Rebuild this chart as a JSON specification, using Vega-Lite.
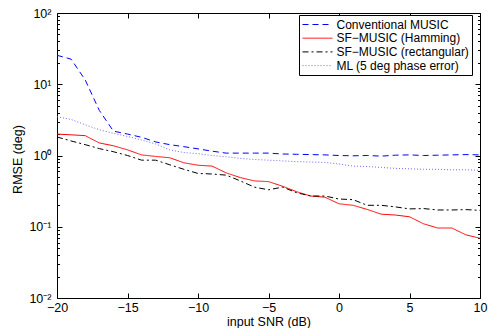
{
  "$schema": "https://vega.github.io/schema/vega-lite/v6.json",
  "width": 423,
  "height": 285,
  "autosize": {"type": "none"},
  "padding": {"left": 57, "top": 13, "right": 11, "bottom": 30},
  "background": "white",
  "config": {
    "view": {"stroke": "black", "strokeWidth": 1},
    "axis": {
      "grid": false, "domain": false, "tickColor": "black", "tickWidth": 1,
      "labelColor": "black", "titleColor": "black",
      "labelFont": "Liberation Sans", "titleFont": "Liberation Sans",
      "labelFontSize": 12.5, "titleFontSize": 12.5, "titleFontWeight": "normal"
    }
  },
  "data": {
    "values": [
      {"snr": -20, "Conventional MUSIC": 25.5, "SF−MUSIC (Hamming)": 2.0, "SF−MUSIC (rectangular)": 1.82, "ML (5 deg phase error)": 3.5},
      {"snr": -19, "Conventional MUSIC": 22.5, "SF−MUSIC (Hamming)": 1.95, "SF−MUSIC (rectangular)": 1.6, "ML (5 deg phase error)": 3.2},
      {"snr": -18, "Conventional MUSIC": 11.5, "SF−MUSIC (Hamming)": 1.9, "SF−MUSIC (rectangular)": 1.42, "ML (5 deg phase error)": 2.7},
      {"snr": -17, "Conventional MUSIC": 4.3, "SF−MUSIC (Hamming)": 1.5, "SF−MUSIC (rectangular)": 1.25, "ML (5 deg phase error)": 2.3},
      {"snr": -16, "Conventional MUSIC": 2.2, "SF−MUSIC (Hamming)": 1.37, "SF−MUSIC (rectangular)": 1.13, "ML (5 deg phase error)": 2.05},
      {"snr": -15, "Conventional MUSIC": 2.0, "SF−MUSIC (Hamming)": 1.2, "SF−MUSIC (rectangular)": 1.0, "ML (5 deg phase error)": 1.85},
      {"snr": -14, "Conventional MUSIC": 1.8, "SF−MUSIC (Hamming)": 1.02, "SF−MUSIC (rectangular)": 0.86, "ML (5 deg phase error)": 1.65},
      {"snr": -13, "Conventional MUSIC": 1.55, "SF−MUSIC (Hamming)": 0.97, "SF−MUSIC (rectangular)": 0.86, "ML (5 deg phase error)": 1.45},
      {"snr": -12, "Conventional MUSIC": 1.42, "SF−MUSIC (Hamming)": 0.93, "SF−MUSIC (rectangular)": 0.74, "ML (5 deg phase error)": 1.2},
      {"snr": -11, "Conventional MUSIC": 1.33, "SF−MUSIC (Hamming)": 0.79, "SF−MUSIC (rectangular)": 0.64, "ML (5 deg phase error)": 1.1},
      {"snr": -10, "Conventional MUSIC": 1.24, "SF−MUSIC (Hamming)": 0.73, "SF−MUSIC (rectangular)": 0.56, "ML (5 deg phase error)": 1.06},
      {"snr": -9, "Conventional MUSIC": 1.15, "SF−MUSIC (Hamming)": 0.71, "SF−MUSIC (rectangular)": 0.55, "ML (5 deg phase error)": 1.0},
      {"snr": -8, "Conventional MUSIC": 1.08, "SF−MUSIC (Hamming)": 0.57, "SF−MUSIC (rectangular)": 0.53, "ML (5 deg phase error)": 0.96},
      {"snr": -7, "Conventional MUSIC": 1.08, "SF−MUSIC (Hamming)": 0.49, "SF−MUSIC (rectangular)": 0.44, "ML (5 deg phase error)": 0.91},
      {"snr": -6, "Conventional MUSIC": 1.08, "SF−MUSIC (Hamming)": 0.44, "SF−MUSIC (rectangular)": 0.36, "ML (5 deg phase error)": 0.88},
      {"snr": -5, "Conventional MUSIC": 1.08, "SF−MUSIC (Hamming)": 0.43, "SF−MUSIC (rectangular)": 0.33, "ML (5 deg phase error)": 0.86},
      {"snr": -4, "Conventional MUSIC": 1.05, "SF−MUSIC (Hamming)": 0.37, "SF−MUSIC (rectangular)": 0.36, "ML (5 deg phase error)": 0.84},
      {"snr": -3, "Conventional MUSIC": 1.04, "SF−MUSIC (Hamming)": 0.31, "SF−MUSIC (rectangular)": 0.3, "ML (5 deg phase error)": 0.82},
      {"snr": -2, "Conventional MUSIC": 1.03, "SF−MUSIC (Hamming)": 0.27, "SF−MUSIC (rectangular)": 0.27, "ML (5 deg phase error)": 0.81},
      {"snr": -1, "Conventional MUSIC": 1.02, "SF−MUSIC (Hamming)": 0.26, "SF−MUSIC (rectangular)": 0.27, "ML (5 deg phase error)": 0.8},
      {"snr": 0, "Conventional MUSIC": 1.0, "SF−MUSIC (Hamming)": 0.21, "SF−MUSIC (rectangular)": 0.245, "ML (5 deg phase error)": 0.76},
      {"snr": 1, "Conventional MUSIC": 0.99, "SF−MUSIC (Hamming)": 0.2, "SF−MUSIC (rectangular)": 0.24, "ML (5 deg phase error)": 0.71},
      {"snr": 2, "Conventional MUSIC": 1.0, "SF−MUSIC (Hamming)": 0.175, "SF−MUSIC (rectangular)": 0.2, "ML (5 deg phase error)": 0.7},
      {"snr": 3, "Conventional MUSIC": 0.98, "SF−MUSIC (Hamming)": 0.15, "SF−MUSIC (rectangular)": 0.2, "ML (5 deg phase error)": 0.68},
      {"snr": 4, "Conventional MUSIC": 1.01, "SF−MUSIC (Hamming)": 0.146, "SF−MUSIC (rectangular)": 0.19, "ML (5 deg phase error)": 0.66},
      {"snr": 5, "Conventional MUSIC": 1.02, "SF−MUSIC (Hamming)": 0.138, "SF−MUSIC (rectangular)": 0.178, "ML (5 deg phase error)": 0.65},
      {"snr": 6, "Conventional MUSIC": 1.0, "SF−MUSIC (Hamming)": 0.11, "SF−MUSIC (rectangular)": 0.18, "ML (5 deg phase error)": 0.64},
      {"snr": 7, "Conventional MUSIC": 1.01, "SF−MUSIC (Hamming)": 0.096, "SF−MUSIC (rectangular)": 0.172, "ML (5 deg phase error)": 0.64},
      {"snr": 8, "Conventional MUSIC": 1.02, "SF−MUSIC (Hamming)": 0.096, "SF−MUSIC (rectangular)": 0.172, "ML (5 deg phase error)": 0.63},
      {"snr": 9, "Conventional MUSIC": 1.03, "SF−MUSIC (Hamming)": 0.077, "SF−MUSIC (rectangular)": 0.174, "ML (5 deg phase error)": 0.63},
      {"snr": 10, "Conventional MUSIC": 1.02, "SF−MUSIC (Hamming)": 0.069, "SF−MUSIC (rectangular)": 0.17, "ML (5 deg phase error)": 0.62}
    ]
  },
  "transform": [
    {"fold": ["Conventional MUSIC", "SF−MUSIC (Hamming)", "SF−MUSIC (rectangular)", "ML (5 deg phase error)"], "as": ["method", "rmse"]}
  ],
  "layer": [
    {
      "mark": {"type": "line", "strokeWidth": 1, "clip": true},
      "encoding": {
        "x": {
          "field": "snr", "type": "quantitative",
          "scale": {"domain": [-20, 10], "nice": false, "zero": false},
          "axis": {"orient": "bottom", "values": [-20, -15, -10, -5, 0, 5, 10], "tickSize": -5, "labelPadding": 8, "labelFlush": false,
                   "title": "input SNR (dB)", "titleY": 23.5, "titleBaseline": "middle"}
        },
        "y": {
          "field": "rmse", "type": "quantitative",
          "scale": {"type": "log", "domain": [0.01, 100], "nice": false},
          "axis": {"orient": "left", "values": [0.01, 0.1, 1, 10, 100], "tickSize": -5, "labelPadding": 11, "labelFlush": false,
                   "labelExpr": "datum.value >= 99 ? '10²' : datum.value >= 9 ? '10¹' : datum.value >= 0.9 ? '10⁰' : datum.value >= 0.09 ? '10⁻¹' : '10⁻²'",
                   "title": "RMSE (deg)", "titleX": -40, "titleY": 146, "titleBaseline": "middle", "titleAlign": "center"}
        },
        "color": {
          "field": "method", "type": "nominal",
          "scale": {"domain": ["Conventional MUSIC", "SF−MUSIC (Hamming)", "SF−MUSIC (rectangular)", "ML (5 deg phase error)"],
                    "range": ["#0000ff", "#ff0000", "#000000", "#6a6aff"]},
          "legend": {"title": null, "orient": "none", "legendX": 242, "legendY": 2, "symbolType": "M-1,0L4,0", "symbolSize": 144, "symbolStrokeWidth": 1,
                     "labelFont": "Liberation Sans", "labelFontSize": 12, "labelColor": "black", "padding": 3, "rowPadding": 0.7, "labelOffset": 21.5,
                     "strokeColor": "black", "fillColor": "white", "labelExpr": "datum.label + '  '"}
        },
        "strokeDash": {
          "field": "method", "type": "nominal",
          "scale": {"domain": ["Conventional MUSIC", "SF−MUSIC (Hamming)", "SF−MUSIC (rectangular)", "ML (5 deg phase error)"],
                    "range": [[6, 4], [1, 0], [6, 3, 2, 3], [1, 2]]},
          "legend": {"title": null, "orient": "none", "legendX": 242, "legendY": 2, "symbolType": "M-1,0L4,0", "symbolSize": 144, "symbolStrokeWidth": 1,
                     "labelFont": "Liberation Sans", "labelFontSize": 12, "labelColor": "black", "padding": 3, "rowPadding": 0.7, "labelOffset": 21.5,
                     "strokeColor": "black", "fillColor": "white", "labelExpr": "datum.label + '  '"}
        }
      }
    },
    {
      "mark": {"type": "point", "opacity": 0, "size": 0},
      "encoding": {
        "x": {"field": "snr", "type": "quantitative", "scale": {"domain": [-20, 10], "nice": false, "zero": false},
              "axis": {"orient": "top", "values": [-20, -15, -10, -5, 0, 5, 10], "tickSize": -5, "labels": false, "title": null}},
        "y": {"field": "rmse", "type": "quantitative", "scale": {"type": "log", "domain": [0.01, 100], "nice": false},
              "axis": {"orient": "right", "values": [0.01, 0.1, 1, 10, 100], "tickSize": -5, "labels": false, "title": null}}
      }
    },
    {
      "mark": {"type": "point", "opacity": 0, "size": 0},
      "encoding": {
        "x": {"field": "snr", "type": "quantitative", "scale": {"domain": [-20, 10], "nice": false, "zero": false}, "axis": null},
        "y": {"field": "rmse", "type": "quantitative", "scale": {"type": "log", "domain": [0.01, 100], "nice": false},
              "axis": {"orient": "left", "values": [0.02, 0.03, 0.04, 0.05, 0.06, 0.07, 0.08, 0.09, 0.2, 0.3, 0.4, 0.5, 0.6, 0.7, 0.8, 0.9, 2, 3, 4, 5, 6, 7, 8, 9, 20, 30, 40, 50, 60, 70, 80, 90],
                       "tickSize": -2.5, "labels": false, "title": null}}
      }
    },
    {
      "mark": {"type": "point", "opacity": 0, "size": 0},
      "encoding": {
        "x": {"field": "snr", "type": "quantitative", "scale": {"domain": [-20, 10], "nice": false, "zero": false}, "axis": null},
        "y": {"field": "rmse", "type": "quantitative", "scale": {"type": "log", "domain": [0.01, 100], "nice": false},
              "axis": {"orient": "right", "values": [0.02, 0.03, 0.04, 0.05, 0.06, 0.07, 0.08, 0.09, 0.2, 0.3, 0.4, 0.5, 0.6, 0.7, 0.8, 0.9, 2, 3, 4, 5, 6, 7, 8, 9, 20, 30, 40, 50, 60, 70, 80, 90],
                       "tickSize": -2.5, "labels": false, "title": null}}
      }
    }
  ],
  "resolve": {"axis": {"x": "independent", "y": "independent"}}
}
